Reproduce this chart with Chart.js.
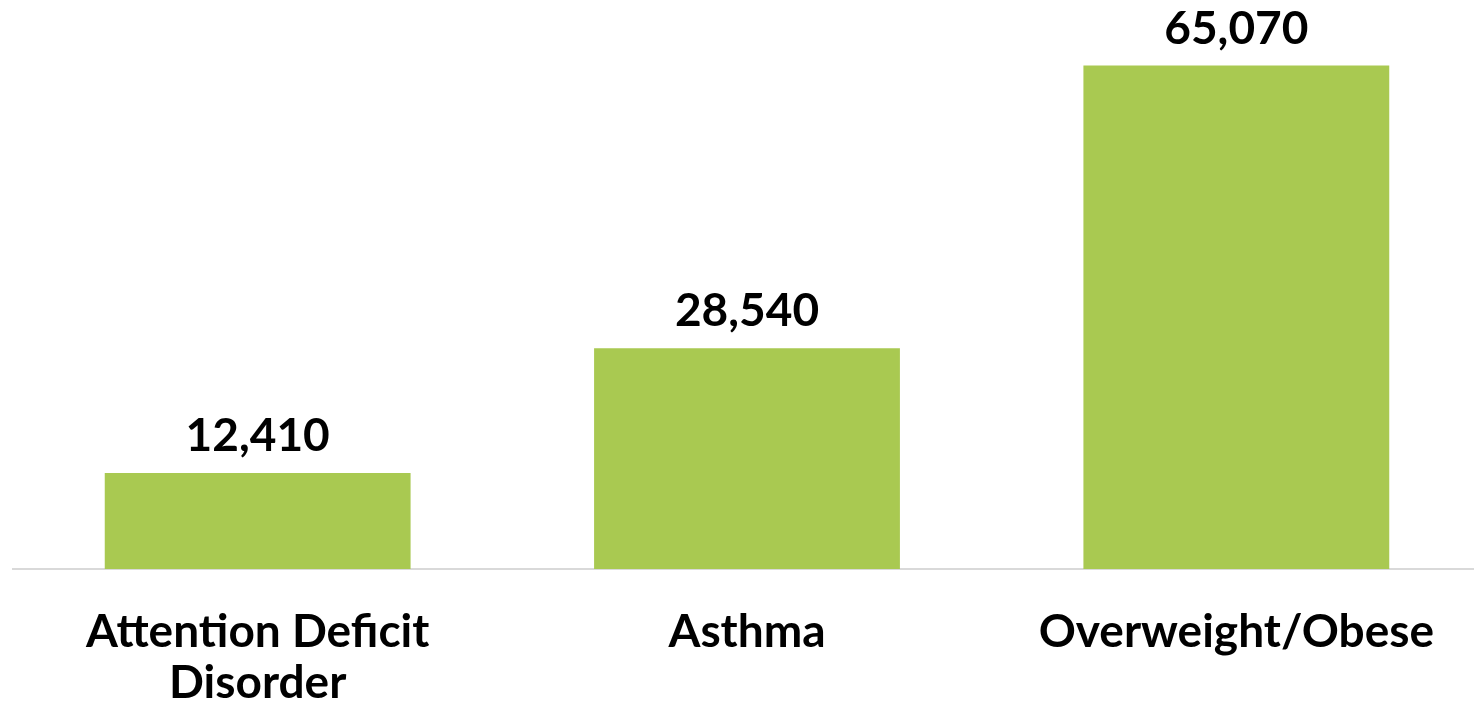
<!DOCTYPE html>
<html><head><meta charset="utf-8">
<script src="https://cdn.jsdelivr.net/npm/chart.js@4/dist/chart.umd.min.js"></script>
<style>html,body{margin:0;padding:0;background:#fff;overflow:hidden;}#wrap{width:1474px;height:706px;overflow:hidden;}</style>
</head><body><div id="wrap"><canvas id="c" width="1481" height="706"></canvas></div>
<script>
const categories = [["Attention Deficit","Disorder"], "Asthma", "Overweight/Obese"];
const values = [12410, 28540, 65070];
const valueLabels = ["12,410", "28,540", "65,070"];

const labelPlugin = {
  id: 'vlabels',
  afterDatasetsDraw(chart) {
    const ctx = chart.ctx;
    const meta = chart.getDatasetMeta(0);
    ctx.save();
    ctx.font = 'bold 46px Lato';
    ctx.fillStyle = '#000';
    ctx.textAlign = 'center';
    ctx.textBaseline = 'alphabetic';
    meta.data.forEach((bar, i) => {
      ctx.fillText(valueLabels[i], bar.x, bar.y - 22);
    });
    ctx.restore();
  }
};

new Chart(document.getElementById('c'), {
  type: 'bar',
  data: { labels: categories, datasets: [{ data: values, backgroundColor: '#A9C951', categoryPercentage: 1, barPercentage: 0.625 }] },
  options: {
    responsive: false, animation: false,
    layout: { padding: { left: 13, right: 0, top: 15, bottom: 0 } },
    plugins: { legend: { display: false }, tooltip: { enabled: false } },
    scales: {
      x: {
        grid: { display: false, drawTicks: false },
        border: { color: '#D9D9D9', width: 2 },
        ticks: { color: '#000', font: { family: 'Lato', weight: 'bold', size: 46, lineHeight: 1.11 }, padding: 38, maxRotation: 0, autoSkip: false },
        afterFit(s) { s.height = 137; }
      },
      y: { display: false, min: 0, max: 71600 }
    }
  },
  plugins: [labelPlugin]
});
</script></body></html>
